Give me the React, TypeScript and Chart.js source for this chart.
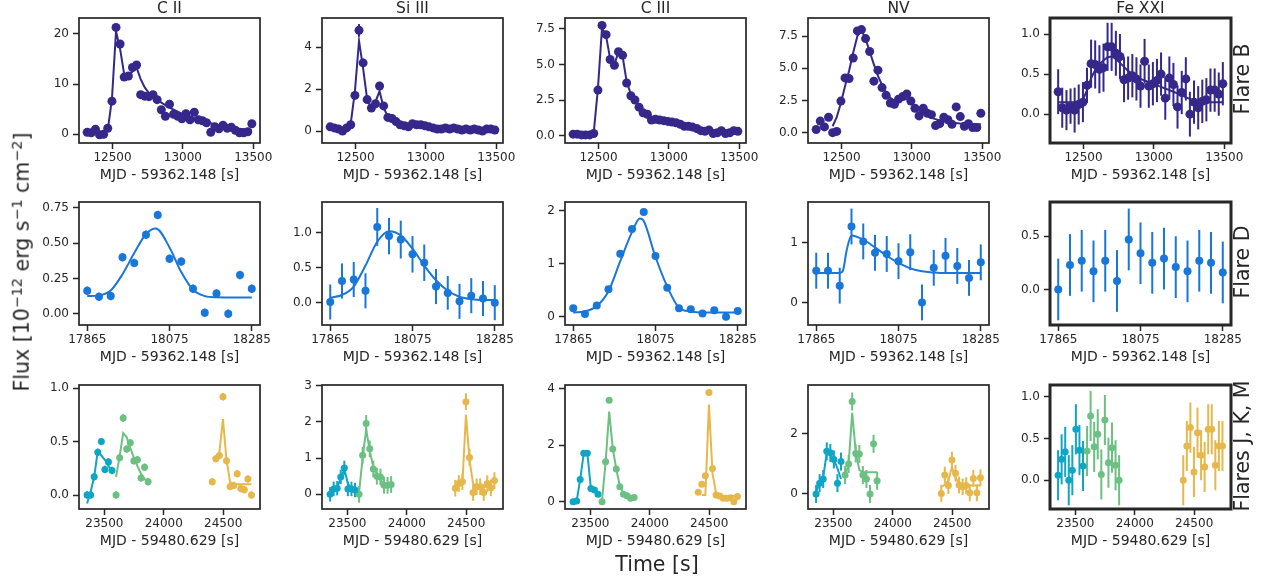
import React, { useEffect, useRef } from 'react';
import { Chart, registerables } from 'chart.js';

Chart.register(...registerables);

const FONT = 'DejaVu Sans';
const TXT = '#262626';
Chart.defaults.font.family = FONT;

// ---------- colours ----------
const C_B = '#35288a';
const C_D = '#1877d8';
const C_J = '#10a5c5';
const C_K = '#6cc182';
const C_M = '#e6b84b';

// ---------- x axes ----------
const XT_B = [12500, 13000, 13500];
const XL_B = ['12500', '13000', '13500'];
const XT_D = [17865, 18075, 18285];
const XL_D = ['17865', '18075', '18285'];
const XT_JKM = [23500, 24000, 24500];
const XL_JKM = ['23500', '24000', '24500'];

// ---------- Flare B (row 1) ----------
const T_B = [12320, 12349, 12379, 12408, 12437, 12466, 12496, 12525, 12554, 12583, 12613, 12642, 12671, 12700, 12730, 12759, 12788, 12817, 12847, 12876, 12905, 12934, 12964, 12993, 13022, 13051, 13081, 13110, 13139, 13168, 13198, 13227, 13256, 13285, 13315, 13344, 13373, 13402, 13432, 13461, 13490];
const CII_B = [0.4, 0.3, 1.0, -0.1, 0.0, 1.2, 6.6, 21.3, 18.0, 11.4, 11.6, 13.3, 13.8, 7.9, 7.6, 7.5, 7.9, 6.9, 4.9, 3.6, 6.0, 4.0, 3.6, 3.1, 4.1, 2.9, 4.4, 2.9, 2.7, 2.3, 0.4, 1.5, 1.1, 1.8, 1.2, 1.4, 0.8, 0.3, 0.3, 0.5, 2.1];
const CII_B_FIT = [0.3, 0.3, 0.3, 0.3, 0.3, 0.8, 7.0, 20.5, 17.0, 12.0, 11.6, 12.5, 13.3, 11.0, 9.3, 8.2, 7.5, 6.9, 6.3, 5.8, 5.3, 4.9, 4.5, 4.1, 3.8, 3.5, 3.2, 2.9, 2.7, 2.5, 2.2, 2.0, 1.8, 1.6, 1.5, 1.3, 1.2, 1.1, 1.0, 0.9, 0.8];
const SIIII_B = [0.2, 0.15, 0.1, 0.0, 0.15, 0.3, 1.7, 4.8, 3.25, 1.5, 1.1, 1.3, 2.15, 1.2, 0.65, 0.6, 0.45, 0.3, 0.25, 0.2, 0.35, 0.3, 0.3, 0.25, 0.2, 0.15, 0.1, 0.1, 0.15, 0.1, 0.15, 0.1, 0.05, 0.1, 0.05, 0.1, 0.05, 0.0, 0.1, 0.1, 0.05];
const SIIII_B_ERR = [0.12, 0.12, 0.12, 0.12, 0.12, 0.12, 0.15, 0.3, 0.2, 0.15, 0.12, 0.12, 0.2, 0.15, 0.12, 0.12, 0.12, 0.12, 0.12, 0.12, 0.12, 0.12, 0.12, 0.12, 0.12, 0.12, 0.12, 0.12, 0.12, 0.12, 0.12, 0.12, 0.12, 0.12, 0.12, 0.12, 0.12, 0.12, 0.12, 0.12, 0.12];
const SIIII_B_FIT = [0.1, 0.1, 0.1, 0.1, 0.12, 0.35, 1.9, 4.3, 3.0, 1.5, 1.1, 1.4, 1.9, 1.1, 0.7, 0.5, 0.42, 0.36, 0.32, 0.29, 0.27, 0.25, 0.23, 0.21, 0.2, 0.19, 0.18, 0.17, 0.16, 0.15, 0.14, 0.13, 0.12, 0.12, 0.11, 0.11, 0.1, 0.1, 0.1, 0.1, 0.1];
const CIII_B = [0.1, 0.1, 0.05, 0.05, 0.05, 0.15, 3.2, 7.75, 7.1, 5.35, 4.95, 5.9, 5.65, 3.7, 2.8, 2.5, 2.0, 1.6, 1.5, 1.1, 1.15, 1.1, 1.05, 1.0, 0.95, 0.9, 0.8, 0.65, 0.65, 0.6, 0.5, 0.35, 0.3, 0.4, 0.15, 0.2, 0.35, 0.15, 0.2, 0.35, 0.3];
const CIII_B_FIT = [0.1, 0.1, 0.1, 0.1, 0.1, 0.2, 3.3, 7.6, 7.0, 5.4, 5.0, 5.9, 5.6, 3.8, 2.9, 2.4, 2.0, 1.7, 1.5, 1.3, 1.2, 1.1, 1.0, 0.95, 0.9, 0.85, 0.8, 0.75, 0.7, 0.65, 0.6, 0.55, 0.5, 0.45, 0.42, 0.4, 0.37, 0.35, 0.33, 0.31, 0.3];
const NV_B = [0.25, 0.9, 0.45, 1.2, 0.0, 0.1, 2.45, 4.25, 4.2, 5.8, 7.9, 8.0, 7.3, 6.3, 4.0, 4.85, 3.5, 2.9, 2.3, 2.2, 2.6, 2.8, 3.0, 2.45, 1.9, 1.3, 1.9, 1.5, 1.4, 0.55, 0.7, 1.2, 1.0, 0.65, 2.0, 1.25, 0.5, 0.7, 0.4, 0.4, 1.5];
const NV_B_FIT = [null, null, null, null, 0.5, 1.2, 2.3, 3.6, 4.8, 6.2, 7.5, 7.95, 7.3, 6.3, 5.3, 4.4, 3.7, 3.1, 2.7, 2.5, 2.5, 2.6, 2.6, 2.4, 2.0, 1.7, 1.5, 1.3, 1.15, 1.05, 0.95, 0.9, 0.85, 0.8, 0.75, 0.72, 0.7, 0.68, 0.67, 0.66, 0.65];
const FE_B = [0.28, 0.08, 0.05, 0.1, 0.05, 0.12, 0.15, 0.36, 0.63, 0.62, 0.56, 0.58, 0.84, 0.84, 0.76, 0.72, 0.43, 0.45, 0.48, 0.44, 0.35, 0.66, 0.35, 0.38, 0.42, 0.5, 0.2, 0.45, 0.37, 0.09, 0.27, 0.44, 0.0, 0.15, 0.08, 0.16, 0.18, 0.3, 0.3, 0.25, 0.38];
const FE_B_ERR = [0.28, 0.25, 0.25, 0.22, 0.28, 0.25, 0.25, 0.22, 0.3, 0.3, 0.3, 0.3, 0.3, 0.3, 0.28, 0.28, 0.28, 0.27, 0.27, 0.27, 0.27, 0.28, 0.27, 0.27, 0.27, 0.27, 0.27, 0.27, 0.27, 0.27, 0.27, 0.27, 0.28, 0.27, 0.27, 0.27, 0.27, 0.27, 0.27, 0.27, 0.27];
const FE_B_FIT = [0.15, 0.15, 0.15, 0.15, 0.15, 0.16, 0.18, 0.3, 0.45, 0.55, 0.62, 0.67, 0.71, 0.72, 0.69, 0.64, 0.59, 0.54, 0.5, 0.47, 0.44, 0.42, 0.4, 0.38, 0.36, 0.34, 0.32, 0.3, 0.28, 0.26, 0.24, 0.21, 0.19, 0.17, 0.16, 0.15, 0.15, 0.15, 0.15, 0.15, 0.15];

// ---------- Flare D (row 2) ----------
const T_D = [17865, 17895, 17925, 17955, 17985, 18015, 18045, 18075, 18105, 18135, 18165, 18195, 18225, 18255, 18285];
const CII_D = [0.163, 0.12, 0.125, 0.40, 0.36, 0.56, 0.70, 0.39, 0.37, 0.177, 0.007, 0.144, 0.0, 0.274, 0.177];
const CII_D_FIT_T = [17865, 17895, 17925, 17955, 17985, 18015, 18040, 18075, 18105, 18135, 18165, 18195, 18225, 18255, 18285];
const CII_D_FIT = [0.125, 0.13, 0.165, 0.28, 0.43, 0.565, 0.605, 0.47, 0.295, 0.17, 0.125, 0.116, 0.115, 0.115, 0.115];
const SIIII_D = [0.01, 0.31, 0.33, 0.17, 1.08, 0.95, 0.90, 0.69, 0.57, 0.23, 0.14, 0.02, 0.10, 0.06, 0.0];
const SIIII_D_ERR = [0.25, 0.25, 0.25, 0.25, 0.27, 0.26, 0.27, 0.26, 0.26, 0.25, 0.24, 0.25, 0.25, 0.25, 0.25];
const SIIII_D_FIT = [0.07, 0.11, 0.23, 0.53, 0.87, 1.02, 0.96, 0.77, 0.53, 0.32, 0.17, 0.085, 0.05, 0.04, 0.04];
const CIII_D = [0.16, 0.05, 0.21, 0.52, 1.19, 1.66, 1.98, 1.15, 0.55, 0.16, 0.14, 0.06, 0.12, 0.0, 0.11];
const CIII_D_FIT_T = [17865, 17895, 17925, 17955, 17985, 18015, 18035, 18045, 18075, 18105, 18135, 18165, 18195, 18225, 18255, 18285];
const CIII_D_FIT = [0.08, 0.1, 0.2, 0.48, 1.05, 1.6, 1.86, 1.81, 1.13, 0.57, 0.17, 0.1, 0.08, 0.08, 0.08, 0.08];
const NV_D = [0.53, 0.53, 0.28, 1.27, 1.02, 0.83, 0.81, 0.69, 0.84, 0.0, 0.58, 0.78, 0.61, 0.41, 0.67];
const NV_D_FIT_T = [17865, 17895, 17925, 17933, 17943, 17955, 17985, 18015, 18045, 18075, 18105, 18135, 18165, 18195, 18225, 18255, 18285];
const NV_D_FIT = [0.49, 0.49, 0.49, 0.53, 0.88, 1.12, 1.05, 0.92, 0.78, 0.66, 0.57, 0.52, 0.5, 0.49, 0.49, 0.49, 0.49];
const FE_D = [0.0, 0.23, 0.27, 0.17, 0.27, 0.08, 0.47, 0.34, 0.25, 0.29, 0.21, 0.17, 0.27, 0.25, 0.16];

// ---------- Flares J, K, M (row 3) ----------
const T_J = [23354, 23384, 23414, 23444, 23474, 23504, 23534, 23564];
const T_K = [23598, 23628, 23658, 23688, 23718, 23748, 23778, 23808, 23838, 23868];
const T_M = [24408, 24438, 24468, 24498, 24528, 24558, 24588, 24618, 24648, 24678, 24708, 24738];

const CII_J = [0.0, 0.0, 0.17, 0.40, 0.50, 0.24, 0.31, 0.23];
const CII_J_FIT = [-0.08, 0.03, 0.17, 0.41, 0.37, 0.33, 0.27, 0.23];
const CII_K = [0.0, 0.35, 0.72, 0.43, 0.49, 0.32, 0.33, 0.16, 0.26, 0.125];
const CII_K_FIT = [0.17, 0.36, 0.58, 0.54, 0.44, 0.35, 0.27, 0.2, 0.15, 0.12];
const CII_M = [0.125, 0.34, 0.37, 0.92, 0.32, 0.08, 0.09, 0.2, 0.06, 0.05, 0.15, 0.0];
const CII_M_FIT = [null, 0.33, 0.4, 0.71, 0.33, 0.12, 0.1, 0.1, 0.1, 0.1, 0.1, 0.1];

const SIIII_J = [0.0, 0.15, 0.17, 0.48, 0.73, 0.15, 0.15, 0.12];
const SIIII_J_FIT = [0.0, 0.1, 0.2, 0.45, 0.7, 0.3, 0.15, 0.12];
const SIIII_K = [0.0, 1.08, 1.96, 1.26, 0.7, 0.5, 0.48, 0.25, 0.25, 0.27];
const SIIII_K_FIT = [0.05, 1.0, 1.8, 1.2, 0.75, 0.55, 0.4, 0.3, 0.26, 0.25];
const SIIII_M = [0.17, 0.3, 0.35, 2.56, 1.02, 0.05, 0.21, 0.21, 0.05, 0.3, 0.18, 0.38];
const SIIII_M_FIT = [0.2, 0.25, 0.3, 2.2, 0.95, 0.3, 0.2, 0.2, 0.2, 0.2, 0.2, 0.2];

const CIII_J = [0.0, 0.02, 0.79, 1.72, 1.72, 0.47, 0.41, 0.26];
const CIII_J_FIT = [0.0, 0.02, 0.79, 1.72, 1.72, 0.47, 0.38, 0.26];
const CIII_K = [0.0, 1.42, 3.6, 1.87, 1.16, 0.53, 0.26, 0.21, 0.12, 0.15];
const CIII_K_FIT = [0.05, 1.4, 3.2, 1.9, 1.15, 0.55, 0.3, 0.2, 0.15, 0.13];
const CIII_M = [0.33, 0.62, 0.92, 3.87, 1.18, 0.24, 0.2, 0.12, 0.12, 0.14, 0.0, 0.18];
const CIII_M_FIT = [null, 0.24, 0.24, 3.45, 1.0, 0.3, 0.22, 0.2, 0.2, 0.2, 0.2, 0.2];

const NV_J = [0.0, 0.36, 0.5, 1.42, 1.37, 1.15, 0.36, 1.08];
const NV_J_FIT = [0.08, 0.35, 0.55, 1.38, 1.3, 1.15, 0.85, 0.5];
const NV_K = [0.63, 1.0, 3.08, 1.35, 1.33, 0.63, 0.5, 0.0, 1.67, 0.44];
const NV_K_FIT = [0.6, 1.0, 2.7, 1.4, 0.8, 0.72, 0.72, 0.72, 0.72, 0.72];
const NV_M = [0.02, 0.63, 0.28, 1.13, 0.69, 0.3, 0.24, 0.28, 0.04, 0.52, 0.04, 0.54];
const NV_M_FIT = [0.25, 0.3, 0.45, 0.9, 0.55, 0.35, 0.3, 0.28, 0.28, 0.28, 0.28, 0.28];

const FE_J = [0.06, 0.25, 0.34, 0.0, 0.12, 0.61, 0.36, 0.17];
const FE_K = [0.35, 0.77, 0.4, 0.55, 0.07, 0.72, 0.21, 0.39, 0.18, 0.0];
const FE_M = [0.0, 0.41, 0.63, 0.1, 0.57, 0.3, 0.16, 0.61, 0.61, 0.18, 0.41, 0.41];

// ---------- types ----------
type Series = {
  t: number[];
  y: number[];
  err: number | number[];
  color: string;
  fit?: (number | null)[];
  fitT?: number[];
};
type Panel = {
  row: number;
  col: number;
  title?: string;
  yMin: number;
  yMax: number;
  yTicks: number[];
  yLabels: string[];
  series: Series[];
};

const ROWS = [
  { min: 12262, max: 13548, ticks: XT_B, labels: XL_B, title: 'MJD - 59362.148 [s]', radius: 4.5, smooth: false, top: 18, h: 125 },
  { min: 17844, max: 18306, ticks: XT_D, labels: XL_D, title: 'MJD - 59362.148 [s]', radius: 4, smooth: true, top: 202, h: 123 },
  { min: 23286, max: 24810, ticks: XT_JKM, labels: XL_JKM, title: 'MJD - 59480.629 [s]', radius: 3.5, smooth: false, top: 385, h: 124 },
];
const COL_LEFT = [79, 322, 565, 808, 1050];
const BOX_W = 181;
const Y_AXIS_W = 50;
const X_AXIS_H = 42;
const TOP_PAD = 18;
const RIGHT_PAD = 15;

const PANELS: Panel[] = [
  { row: 0, col: 0, title: 'C II', yMin: -1.73, yMax: 23.17, yTicks: [0, 10, 20], yLabels: ['0', '10', '20'],
    series: [{ t: T_B, y: CII_B, err: 0.4, color: C_B, fit: CII_B_FIT }] },
  { row: 0, col: 1, title: 'Si III', yMin: -0.57, yMax: 5.39, yTicks: [0, 2, 4], yLabels: ['0', '2', '4'],
    series: [{ t: T_B, y: SIIII_B, err: SIIII_B_ERR, color: C_B, fit: SIIII_B_FIT }] },
  { row: 0, col: 2, title: 'C III', yMin: -0.52, yMax: 8.27, yTicks: [0, 2.5, 5, 7.5], yLabels: ['0.0', '2.5', '5.0', '7.5'],
    series: [{ t: T_B, y: CIII_B, err: 0.08, color: C_B, fit: CIII_B_FIT }] },
  { row: 0, col: 3, title: 'NV', yMin: -0.8, yMax: 8.9, yTicks: [0, 2.5, 5, 7.5], yLabels: ['0.0', '2.5', '5.0', '7.5'],
    series: [{ t: T_B, y: NV_B, err: 0.1, color: C_B, fit: NV_B_FIT }] },
  { row: 0, col: 4, title: 'Fe XXI', yMin: -0.36, yMax: 1.2, yTicks: [0, 0.5, 1], yLabels: ['0.0', '0.5', '1.0'],
    series: [{ t: T_B, y: FE_B, err: FE_B_ERR, color: C_B, fit: FE_B_FIT }] },

  { row: 1, col: 0, yMin: -0.08, yMax: 0.792, yTicks: [0, 0.25, 0.5, 0.75], yLabels: ['0.00', '0.25', '0.50', '0.75'],
    series: [{ t: T_D, y: CII_D, err: 0.03, color: C_D, fit: CII_D_FIT, fitT: CII_D_FIT_T }] },
  { row: 1, col: 1, yMin: -0.318, yMax: 1.436, yTicks: [0, 0.5, 1], yLabels: ['0.0', '0.5', '1.0'],
    series: [{ t: T_D, y: SIIII_D, err: SIIII_D_ERR, color: C_D, fit: SIIII_D_FIT }] },
  { row: 1, col: 2, yMin: -0.157, yMax: 2.17, yTicks: [0, 1, 2], yLabels: ['0', '1', '2'],
    series: [{ t: T_D, y: CIII_D, err: 0.04, color: C_D, fit: CIII_D_FIT, fitT: CIII_D_FIT_T }] },
  { row: 1, col: 3, yMin: -0.378, yMax: 1.68, yTicks: [0, 1], yLabels: ['0', '1'],
    series: [{ t: T_D, y: NV_D, err: 0.3, color: C_D, fit: NV_D_FIT, fitT: NV_D_FIT_T }] },
  { row: 1, col: 4, yMin: -0.334, yMax: 0.822, yTicks: [0, 0.5], yLabels: ['0.0', '0.5'],
    series: [{ t: T_D, y: FE_D, err: 0.29, color: C_D }] },

  { row: 2, col: 0, yMin: -0.131, yMax: 1.03, yTicks: [0, 0.5, 1], yLabels: ['0.0', '0.5', '1.0'],
    series: [
      { t: T_J, y: CII_J, err: 0.035, color: C_J, fit: CII_J_FIT },
      { t: T_K, y: CII_K, err: 0.035, color: C_K, fit: CII_K_FIT },
      { t: T_M, y: CII_M, err: 0.035, color: C_M, fit: CII_M_FIT },
    ] },
  { row: 2, col: 1, yMin: -0.405, yMax: 3.02, yTicks: [0, 1, 2, 3], yLabels: ['0', '1', '2', '3'],
    series: [
      { t: T_J, y: SIIII_J, err: 0.2, color: C_J, fit: SIIII_J_FIT },
      { t: T_K, y: SIIII_K, err: 0.23, color: C_K, fit: SIIII_K_FIT },
      { t: T_M, y: SIIII_M, err: 0.23, color: C_M, fit: SIIII_M_FIT },
    ] },
  { row: 2, col: 2, yMin: -0.26, yMax: 4.14, yTicks: [0, 2, 4], yLabels: ['0', '2', '4'],
    series: [
      { t: T_J, y: CIII_J, err: 0.05, color: C_J, fit: CIII_J_FIT },
      { t: T_K, y: CIII_K, err: 0.05, color: C_K, fit: CIII_K_FIT },
      { t: T_M, y: CIII_M, err: 0.05, color: C_M, fit: CIII_M_FIT },
    ] },
  { row: 2, col: 3, yMin: -0.5, yMax: 3.63, yTicks: [0, 2], yLabels: ['0', '2'],
    series: [
      { t: T_J, y: NV_J, err: 0.3, color: C_J, fit: NV_J_FIT },
      { t: T_K, y: NV_K, err: 0.3, color: C_K, fit: NV_K_FIT },
      { t: T_M, y: NV_M, err: 0.28, color: C_M, fit: NV_M_FIT },
    ] },
  { row: 2, col: 4, yMin: -0.344, yMax: 1.14, yTicks: [0, 0.5, 1], yLabels: ['0.0', '0.5', '1.0'],
    series: [
      { t: T_J, y: FE_J, err: 0.3, color: C_J },
      { t: T_K, y: FE_K, err: 0.3, color: C_K },
      { t: T_M, y: FE_M, err: 0.3, color: C_M },
    ] },
];

// ---------- plugins ----------
const errorBarPlugin = {
  id: 'errbars',
  beforeDatasetsDraw(chart: any) {
    const { ctx, chartArea } = chart;
    const xs = chart.scales.x;
    const ys = chart.scales.y;
    ctx.save();
    ctx.beginPath();
    ctx.rect(chartArea.left, chartArea.top, chartArea.right - chartArea.left, chartArea.bottom - chartArea.top);
    ctx.clip();
    chart.data.datasets.forEach((ds: any) => {
      if (!ds.errs) return;
      ctx.strokeStyle = ds.backgroundColor;
      ctx.lineWidth = 2;
      ds.data.forEach((p: any, i: number) => {
        const e = ds.errs[i];
        const x = xs.getPixelForValue(p.x);
        ctx.beginPath();
        ctx.moveTo(x, ys.getPixelForValue(p.y - e));
        ctx.lineTo(x, ys.getPixelForValue(p.y + e));
        ctx.stroke();
      });
    });
    ctx.restore();
  },
};

const framePlugin = {
  id: 'frame',
  afterDatasetsDraw(chart: any, _args: any, opts: any) {
    const { ctx, chartArea } = chart;
    ctx.save();
    ctx.strokeStyle = TXT;
    ctx.lineWidth = opts.width || 1.7;
    ctx.strokeRect(chartArea.left, chartArea.top, chartArea.right - chartArea.left, chartArea.bottom - chartArea.top);
    ctx.restore();
  },
};

function buildConfig(p: Panel): any {
  const rx = ROWS[p.row];
  const fits: any[] = [];
  const pts: any[] = [];
  p.series.forEach((s) => {
    if (s.fit) {
      const ft = s.fitT ?? s.t;
      fits.push({
        data: ft.map((t, i) => ({ x: t, y: s.fit![i] })).filter((d) => d.y !== null),
        showLine: true,
        pointRadius: 0,
        borderColor: s.color,
        backgroundColor: s.color,
        borderWidth: 2,
        cubicInterpolationMode: rx.smooth ? 'monotone' : 'default',
        tension: 0,
      });
    }
    pts.push({
      data: s.t.map((t, i) => ({ x: t, y: s.y[i] })),
      showLine: false,
      pointRadius: rx.radius,
      pointHoverRadius: rx.radius,
      pointBorderWidth: 0,
      pointBackgroundColor: s.color,
      backgroundColor: s.color,
      borderColor: s.color,
      errs: s.t.map((_, i) => (Array.isArray(s.err) ? s.err[i] : s.err)),
    });
  });

  const tickFont = { family: FONT, size: 12 };
  const gridOpts = { display: true, drawOnChartArea: false, drawTicks: true, tickLength: 6, tickWidth: 1.5, tickColor: TXT };

  return {
    type: 'scatter',
    data: { datasets: [...fits, ...pts] },
    options: {
      animation: false,
      responsive: false,
      maintainAspectRatio: false,
      events: [],
      layout: { padding: { top: p.title ? 0 : TOP_PAD, right: RIGHT_PAD, left: 0, bottom: 0 } },
      plugins: {
        legend: { display: false },
        tooltip: { enabled: false },
        title: {
          display: !!p.title,
          text: p.title || '',
          color: TXT,
          fullSize: false,
          font: { family: FONT, size: 15.5, lineHeight: 1, weight: 'normal' },
          padding: { top: 1.5, bottom: 1 },
        },
        frame: { width: p.col === 4 ? 3 : 1.7 },
      },
      scales: {
        x: {
          type: 'linear',
          position: 'bottom',
          bounds: 'data',
          min: rx.min,
          max: rx.max,
          afterBuildTicks: (sc: any) => { sc.ticks = rx.ticks.map((v) => ({ value: v })); },
          afterFit: (sc: any) => { sc.height = X_AXIS_H; },
          ticks: {
            autoSkip: false, maxRotation: 0, minRotation: 0, padding: 2, color: TXT, font: tickFont,
            callback: (_v: any, i: number) => rx.labels[i],
          },
          grid: gridOpts,
          border: { display: false },
          title: { display: true, text: rx.title, color: TXT, font: { family: FONT, size: 14 }, padding: { top: 0, bottom: 1 } },
        },
        y: {
          type: 'linear',
          position: 'left',
          bounds: 'data',
          min: p.yMin,
          max: p.yMax,
          afterBuildTicks: (sc: any) => { sc.ticks = p.yTicks.map((v) => ({ value: v })); },
          afterFit: (sc: any) => { sc.width = Y_AXIS_W; },
          ticks: {
            autoSkip: false, padding: 4, color: TXT, font: tickFont,
            callback: (_v: any, i: number) => p.yLabels[i],
          },
          grid: gridOpts,
          border: { display: false },
        },
      },
    },
    plugins: [errorBarPlugin, framePlugin],
  };
}

function PanelChart({ panel }: { panel: Panel }) {
  const ref = useRef<HTMLCanvasElement>(null);
  const rx = ROWS[panel.row];
  const left = COL_LEFT[panel.col] - Y_AXIS_W;
  const top = rx.top - TOP_PAD;
  const width = Y_AXIS_W + BOX_W + RIGHT_PAD;
  const height = TOP_PAD + rx.h + X_AXIS_H;
  useEffect(() => {
    const chart = new Chart(ref.current as HTMLCanvasElement, buildConfig(panel));
    return () => chart.destroy();
  }, []);
  return (
    <canvas
      ref={ref}
      width={width}
      height={height}
      style={{ position: 'absolute', left, top, width, height }}
    />
  );
}

const SUP: React.CSSProperties = { fontSize: '0.7em', position: 'relative', top: '-0.5em', lineHeight: 0 };
const BIG: React.CSSProperties = {
  position: 'absolute', fontFamily: FONT, fontSize: 20.5, lineHeight: 1, color: TXT, whiteSpace: 'nowrap',
};

const ROW_LABELS = [
  { text: 'Flare B', y: 79 },
  { text: 'Flare D', y: 262 },
  { text: 'Flares J, K, M', y: 446 },
];

export default function App() {
  return (
    <div style={{ position: 'absolute', left: 0, top: 0, width: 1265, height: 581, background: '#fff', overflow: 'hidden' }}>
      {PANELS.map((p, i) => <PanelChart key={i} panel={p} />)}
      <div style={{ ...BIG, left: 22, top: 262, transform: 'translate(-50%, -50%) rotate(-90deg)' }}>
        Flux [10<span style={SUP}>−12</span> erg s<span style={SUP}>−1</span> cm<span style={SUP}>−2</span>]
      </div>
      <div style={{ ...BIG, left: 657, top: 564, transform: 'translate(-50%, -50%)' }}>Time [s]</div>
      {ROW_LABELS.map((r, i) => (
        <div key={i} style={{ ...BIG, left: 1242, top: r.y, transform: 'translate(-50%, -50%) rotate(-90deg)' }}>{r.text}</div>
      ))}
    </div>
  );
}
